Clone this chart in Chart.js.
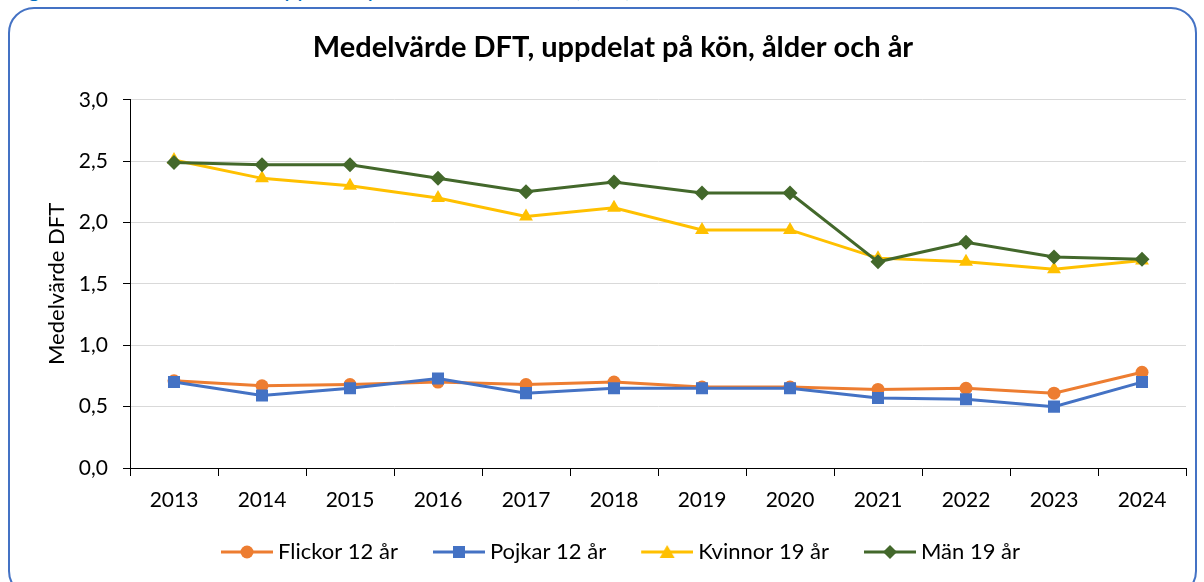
<!DOCTYPE html>
<html>
<head>
<meta charset="utf-8">
<script src="https://cdn.jsdelivr.net/npm/chart.js@4.4.0/dist/chart.umd.min.js"></script>
<style>
  html, body { margin: 0; padding: 0; background: #fff; overflow: hidden; }
  #wrap { position: relative; width: 1204px; height: 582px; overflow: hidden; }
  #cap { position: absolute; left: 9px; top: -23px; font: 23.5px Lato, sans-serif; color: #0070c0; white-space: nowrap; line-height: 23.5px; }
  #frame { position: absolute; left: 8px; top: 7px; width: 1189px; height: 590px; border: 2px solid #4472c4; border-radius: 26px; box-sizing: border-box; background: transparent; }
  canvas { position: absolute; left: 0; top: 0; }
</style>
</head>
<body>
<div id="wrap">
  <div id="cap">Figur 4. Medelvärde DFT uppdelat på kön, ålder och år (DFT)</div>
  <div id="frame"></div>
  <canvas id="chart" width="1204" height="582"></canvas>
</div>
<script>
// data
const years = ['2013', '2014', '2015', '2016', '2017', '2018', '2019', '2020', '2021', '2022', '2023', '2024'];
const flickor12 = [0.71, 0.67, 0.68, 0.70, 0.68, 0.70, 0.66, 0.66, 0.64, 0.65, 0.61, 0.78];
const pojkar12  = [0.70, 0.59, 0.65, 0.73, 0.61, 0.65, 0.65, 0.65, 0.57, 0.56, 0.50, 0.70];
const kvinnor19 = [2.51, 2.36, 2.30, 2.20, 2.05, 2.12, 1.94, 1.94, 1.71, 1.68, 1.62, 1.69];
const man19     = [2.49, 2.47, 2.47, 2.36, 2.25, 2.33, 2.24, 2.24, 1.68, 1.84, 1.72, 1.70];
const seriesNames = ['Flickor 12 år', 'Pojkar 12 år', 'Kvinnor 19 år', 'Män 19 år'];
const yTicks = [0, 0.5, 1, 1.5, 2, 2.5, 3];

const colors = ['#ed7d31', '#4472c4', '#ffc000', '#43682b'];
const FONT = 'Lato';

// legend pictures: line + marker, with empty room on the left so items sit further apart
const ICON_W = 73;
const ICON_BOX = 61;
function makeIcon(color, shape) {
    let c = document.createElement('canvas');
    c.width = ICON_W;
    c.height = 18;
    let g = c.getContext('2d');
    let x0 = ICON_W - 52, mid = ICON_W - 26;
    g.strokeStyle = color;
    g.lineWidth = 3;
    g.beginPath();
    g.moveTo(x0, 9);
    g.lineTo(ICON_W, 9);
    g.stroke();
    g.fillStyle = color;
    g.beginPath();
    if (shape == 'circle') {
        g.arc(mid, 9, 6.5, 0, Math.PI * 2);
    } else if (shape == 'rect') {
        g.rect(mid - 6, 3, 12, 12);
    } else if (shape == 'triangle') {
        g.moveTo(mid, 2); g.lineTo(mid + 7.5, 15); g.lineTo(mid - 7.5, 15);
    } else {
        g.moveTo(mid, 2); g.lineTo(mid + 7, 9); g.lineTo(mid, 16); g.lineTo(mid - 7, 9);
    }
    g.closePath();
    g.fill();
    return c;
}
const icons = [
    makeIcon(colors[0], 'circle'),
    makeIcon(colors[1], 'rect'),
    makeIcon(colors[2], 'triangle'),
    makeIcon(colors[3], 'diamond')
];

function ds(i, values, style, radius) {
    return {
        label: seriesNames[i],
        data: values,
        borderColor: colors[i],
        backgroundColor: colors[i],
        borderWidth: 3,
        pointStyle: style,
        pointRadius: radius,
        pointBorderWidth: 0,
        pointHoverRadius: radius,
        tension: 0,
        order: 4 - i
    };
}

new Chart(document.getElementById('chart'), {
    type: 'line',
    data: {
        labels: years,
        datasets: [
            ds(0, flickor12, 'circle', 6.5),
            ds(1, pojkar12, 'rect', 8.5),
            ds(2, kvinnor19, 'triangle', 8),
            ds(3, man19, 'rectRot', 7.5)
        ]
    },
    options: {
        responsive: false,
        animation: false,
        devicePixelRatio: 1,
        layout: { padding: { left: 40, right: 18, top: 0, bottom: 9 } },
        plugins: {
            tooltip: { enabled: false },
            title: {
                display: true,
                text: 'Medelvärde DFT, uppdelat på kön, ålder och år',
                color: '#000',
                font: { family: FONT, size: 29, weight: 'bold' },
                padding: { top: 30, bottom: 35 }
            },
            legend: {
                position: 'bottom',
                labels: {
                    usePointStyle: true,
                    pointStyleWidth: ICON_BOX,
                    padding: 20,
                    color: '#000',
                    font: { family: FONT, size: 22 },
                    sort: (a, b) => a.datasetIndex - b.datasetIndex,
                    generateLabels: function(chart) {
                        let items = Chart.defaults.plugins.legend.labels.generateLabels(chart);
                        items.forEach(it => { it.pointStyle = icons[it.datasetIndex]; });
                        return items;
                    }
                }
            }
        },
        scales: {
            x: {
                offset: true,
                grid: { offset: true, drawOnChartArea: false, tickLength: 8, tickColor: '#000', tickWidth: 1 },
                border: { color: '#000', width: 1 },
                ticks: { color: '#000', font: { family: FONT, size: 21 }, padding: 12, maxRotation: 0 },
                afterFit: s => { s.height = 53; }
            },
            y: {
                min: 0,
                max: 3,
                afterBuildTicks: s => { s.ticks = yTicks.map(v => ({ value: v })); },
                grid: { color: '#d9d9d9', lineWidth: 1, tickLength: 7, tickColor: '#000' },
                border: { color: '#000', width: 1 },
                ticks: {
                    color: '#000',
                    font: { family: FONT, size: 21 },
                    padding: 15,
                    callback: v => v.toFixed(1).replace('.', ',')
                },
                title: {
                    display: true,
                    text: 'Medelvärde DFT',
                    color: '#000',
                    font: { family: FONT, size: 22 },
                    padding: { top: 4, bottom: 0 }
                },
                afterFit: s => { s.width = 90; }
            }
        }
    }
});
</script>
</body>
</html>
